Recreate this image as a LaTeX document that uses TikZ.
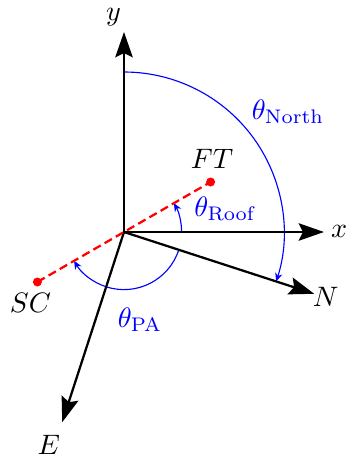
\documentclass[tikz,border=0pt]{standalone}
\usepackage{amsmath}
\usetikzlibrary{arrows.meta}

\begin{document}
\begin{tikzpicture}[
    axis/.style={thick, -{Stealth[length=9pt, width=6.2pt, inset=1.5pt]}},
    angarc/.style={blue, -{Stealth[length=3pt, width=2.6pt]}},
    roofline/.style={thick, red, dash pattern=on 3pt off 1.6pt},
    anglab/.style={blue}]

    \useasboundingbox (-1.55,-2.8125) rectangle (2.775,2.9);

    % --- Key Coordinates ---
    \coordinate (O) at (0,0);
    \coordinate (Xtip) at (2.5,0);
    \coordinate (Ytip) at (0,2.5);
    \coordinate (Ntip) at (-18:2.5);
    \coordinate (Etip) at (-108:2.5);
    \coordinate (FT) at (30:1.25);
    \coordinate (SC) at (210:1.25);

    % --- 1. Angle Arcs ---
    \draw[angarc] (90:2) arc[start angle=90, end angle=-18, radius=2];
    \node[anglab] (northlab) at (2.05,1.5) {$\theta_{\mathrm{North}}$};

    \draw[angarc] (0:0.72) arc[start angle=0, end angle=30, radius=0.72];
    \node[anglab] (rooflab) at (1.27,0.29) {$\theta_{\mathrm{Roof}}$};

    \draw[angarc] (-18:0.72) arc[start angle=-18, end angle=-150, radius=0.72];
    \node[anglab] (palab) at (0.2,-1.1) {$\theta_{\mathrm{PA}}$};

    % --- 2. Axes ---
    \draw[axis] (O) -- (Xtip);
    \draw[axis] (O) -- (Ytip);
    \draw[axis] (O) -- (Ntip);
    \draw[axis] (O) -- (Etip);
    \node (xlab) at (2.69,0.01) {$x$};
    \node (ylab) at (-0.13,2.69) {$y$};
    \node (nlab) at (2.52,-0.81) {$N$};
    \node (elab) at (-0.94,-2.66) {$E$};

    % --- 3. Roof Line (SC to FT) ---
    \draw[roofline] (SC) -- (FT);
    \fill[red] (FT) circle (1.6pt);
    \fill[red] (SC) circle (1.6pt);
    \node (ftlab) at (1.1,0.92) {$FT$};
    \node (sclab) at (-1.17,-0.88) {$SC$};

\end{tikzpicture}
\end{document}
